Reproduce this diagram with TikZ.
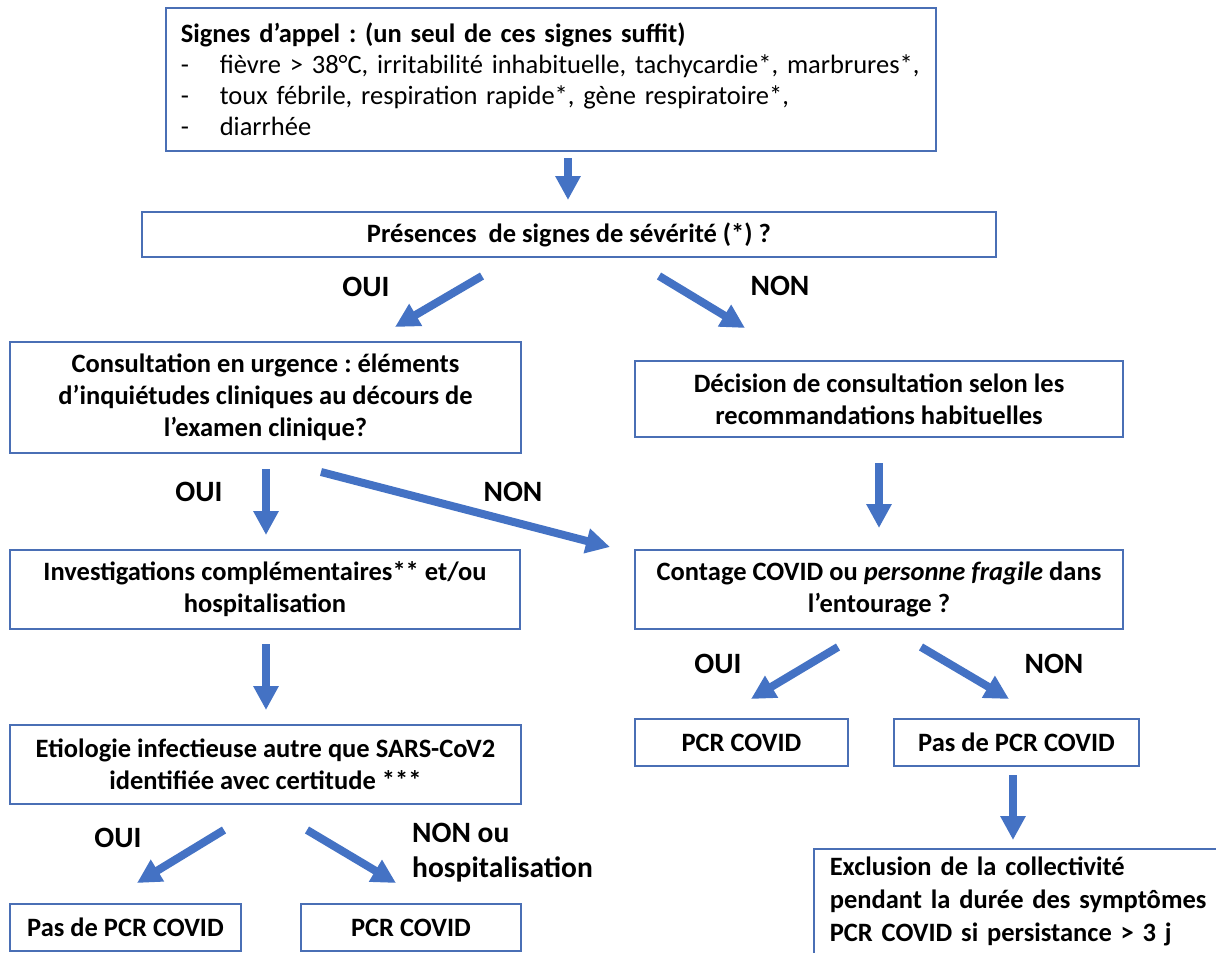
\documentclass[tikz,border=0pt]{standalone}
\usepackage{fontspec}
\setmainfont{Carlito}
\usetikzlibrary{arrows.meta}
\definecolor{flowblue}{HTML}{4472C4}
\definecolor{edgeblue}{HTML}{4A6FB5}
\newcommand\boxfont{\fontsize{26.5}{32}\selectfont\bfseries}
\newcommand\topfont{\fontsize{26.5}{31}\selectfont}
\newcommand\exclfont{\fontsize{26.5}{33}\selectfont\bfseries}
\newcommand\lblfont{\fontsize{29.5}{35}\selectfont\bfseries}
\frenchspacing
\begin{document}
\begin{tikzpicture}[x=1pt,y=-1pt,
  box/.style={draw=edgeblue, line width=1.6pt, fill=white, align=center, inner sep=0pt, font=\boxfont},
  arr/.style={draw=flowblue, line width=8pt, -{Triangle[width=24pt,length=24pt]}},
  lbl/.style={font=\lblfont, inner sep=0pt}]
\useasboundingbox (0,0) rectangle (1216,953);
\fill[white] (0,0) rectangle (1216,953);
\clip (0,0) rectangle (1216,953);

% boxes
\node[box, anchor=north west, align=left, font=\topfont, minimum width=770pt, minimum height=143pt,
      text width=740pt, inner xsep=15pt, inner ysep=0pt] (top) at (165,7)
  {\mbox{\textbf{Signes d’appel : (un seul de ces signes suffit)}}\\
   \mbox{\makebox[39pt][l]{-}fièvre > 38°C, irritabilité inhabituelle, tachycardie*, marbrures*,}\\
   \mbox{\makebox[39pt][l]{-}toux fébrile, respiration rapide*, gène respiratoire*,}\\
   \mbox{\makebox[39pt][l]{-}diarrhée}};
\node[box, minimum width=854pt, minimum height=45pt] (pres) at (569,234.5)
  {Présences\ \ de signes de sévérité (*) ?};
\node[box, minimum width=511pt, minimum height=111pt] (consult) at (265.5,397.5)
  {Consultation en urgence : éléments\\d’inquiétudes cliniques au décours de\\l’examen clinique?};
\node[box, minimum width=488pt, minimum height=76pt] (decision) at (879,399)
  {Décision de consultation selon les\\recommandations habituelles};
\node[box, minimum width=510pt, minimum height=79pt] (invest) at (265,589.5)
  {Investigations complémentaires** et/ou\\hospitalisation};
\node[box, minimum width=488pt, minimum height=79pt] (contage) at (879,589.5)
  {Contage COVID ou \textit{personne fragile} dans\\l’entourage ?};
\node[box, minimum width=511pt, minimum height=79pt] (etio) at (265.5,764.5)
  {Etiologie infectieuse autre que SARS-CoV2\\identifiée avec certitude ***};
\node[box, minimum width=213pt, minimum height=47pt] (pcrA) at (741.5,742.5) {PCR COVID};
\node[box, minimum width=245pt, minimum height=47pt] (pasA) at (1016.5,742.5) {Pas de PCR COVID};
\node[box, minimum width=231pt, minimum height=47pt] (pasB) at (125.5,927.5) {Pas de PCR COVID};
\node[box, minimum width=220pt, minimum height=47pt] (pcrB) at (411,927.5) {PCR COVID};
\node[box, anchor=north west, align=left, font=\exclfont, text width=390pt,
      inner xsep=16pt, inner ysep=8pt] (excl) at (813,848)
  {\mbox{Exclusion de la collectivité}\\\mbox{pendant la durée des symptômes}\\\mbox{PCR COVID si persistance > 3 j}};

% arrow end points
\coordinate (a0s) at (568,158);  \coordinate (a0e) at (568,200);
\coordinate (a1s) at (482,276);  \coordinate (a1e) at (395,327);
\coordinate (a2s) at (659,276);  \coordinate (a2e) at (745,328);
\coordinate (a3s) at (266,469);  \coordinate (a3e) at (266,535);
\coordinate (a4s) at (321,472);  \coordinate (a4e) at (610,547);
\coordinate (a5s) at (879,463);  \coordinate (a5e) at (879,528);
\coordinate (a6s) at (266,644);  \coordinate (a6e) at (266,710);
\coordinate (a7s) at (838,647);  \coordinate (a7e) at (751,699);
\coordinate (a8s) at (921,647);  \coordinate (a8e) at (1009,699);
\coordinate (a9s) at (1013,775); \coordinate (a9e) at (1013,840);
\coordinate (a10s) at (224,830); \coordinate (a10e) at (137,883);
\coordinate (a11s) at (307,830); \coordinate (a11e) at (396,883);

\foreach \i in {0,...,11} {\draw[arr] (a\i s) -- (a\i e);}

% labels
\node[lbl] (l1) at (366,287) {OUI};
\node[lbl] (l2) at (780,286) {NON};
\node[lbl] (l3) at (199,492) {OUI};
\node[lbl] (l4) at (513,492) {NON};
\node[lbl] (l5) at (718,664) {OUI};
\node[lbl] (l6) at (1054,664) {NON};
\node[lbl] (l7) at (118,838) {OUI};
\node[lbl, anchor=west, align=left] (l8) at (412,852.5) {NON ou\\hospitalisation};
\end{tikzpicture}
\end{document}
